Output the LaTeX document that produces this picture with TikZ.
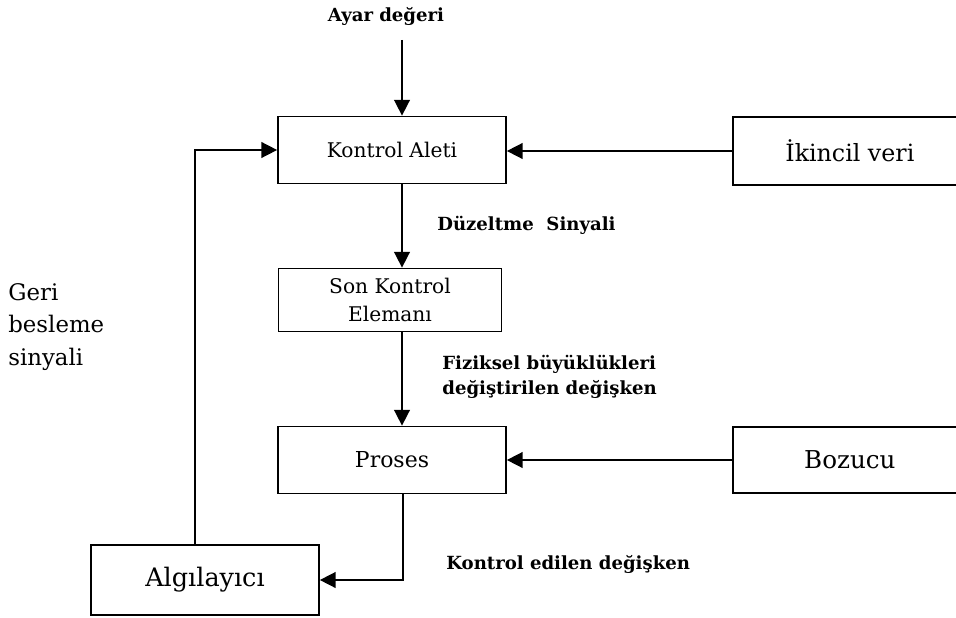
\documentclass[tikz,border=0pt]{standalone}
\usepackage{fontspec}
\setmainfont{DejaVu Serif}
\usetikzlibrary{arrows.meta,positioning}
\tikzset{
  blok/.style    ={rectangle, draw=black, fill=white, line width=1pt, inner sep=0pt,
                   minimum width=4.56cm, minimum height=1.34cm, align=center,
                   font=\fontsize{12.5}{14}\selectfont},
  blokkucuk/.style={blok, font=\fontsize{11.5}{16}\selectfont},
  etiket/.style  ={font=\fontsize{10.3}{14}\selectfont\bfseries, align=left, inner sep=0pt},
  ok/.style      ={-{Triangle[length=9pt,width=9pt]}, line width=0.9pt},
}

\begin{document}
\begin{tikzpicture}[x=0.02cm, y=-0.02cm]
  \fill[white] (0,0) rectangle (956,618);
  \useasboundingbox (0,0) rectangle (956,618);
  \clip (0,0) rectangle (956,618);
  % bloklar
  \node[blokkucuk] (kontrol) at (392,150) {Kontrol Aleti};
  \node[blokkucuk, minimum width=4.46cm, minimum height=1.26cm] (son) at (390,300) {Son Kontrol\\Elemanı};
  \node[blok] (proses) at (392,460) {Proses};
  \node[blok, minimum height=1.4cm, font=\fontsize{14.5}{16}\selectfont] (algi) at (205,580) {Algılayıcı};
  \node[blok, anchor=west, minimum width=5cm, minimum height=1.36cm, font=\fontsize{13.5}{16}\selectfont] (ikincil) at (732,151) {\hspace*{-0.32cm}İkincil veri};
  \node[blok, anchor=west, minimum width=5cm, minimum height=1.32cm, font=\fontsize{14}{16}\selectfont] (bozucu) at (732,460) {\hspace*{-0.32cm}Bozucu};
  % etiketler
  \node[etiket] (ayar) at (386,16) {Ayar değeri};
  \node[etiket, anchor=west] (duzeltme) at (437,225) {Düzeltme\ \ Sinyali};
  \node[etiket, anchor=west] (fiziksel) at (442,377) {Fiziksel büyüklükleri\\değiştirilen değişken};
  \node[etiket, anchor=west] (kontroledilen) at (446,564) {Kontrol edilen değişken};
  \node[anchor=north west, align=left, inner sep=0pt, font=\fontsize{13}{18.5}\selectfont] (geri) at (8,283) {Geri\\besleme\\sinyali};
  % baglantilar
  \coordinate (ayarust) at (402,40);
  \draw[ok] (ayarust) -- (ayarust |- kontrol.north);
  \draw[ok] (ikincil.west) -- (ikincil.west -| kontrol.east);
  \draw[ok] ([xshift=0.2cm]kontrol.south) -- ([xshift=0.2cm]kontrol.south |- son.north);
  \draw[ok] ([xshift=0.24cm]son.south) -- ([xshift=0.24cm]son.south |- proses.north);
  \draw[ok] (bozucu.west) -- (bozucu.west -| proses.east);
  \draw[ok] ([xshift=0.22cm]proses.south) |- (algi.east);
  \draw[ok] ([xshift=-0.2cm]algi.north) |- (kontrol.west);
\end{tikzpicture}
\end{document}
